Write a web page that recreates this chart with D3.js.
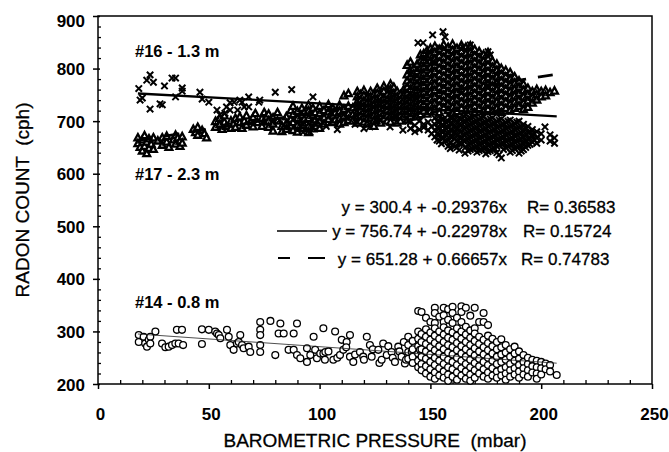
<!DOCTYPE html>
<html>
<head>
<meta charset="utf-8">
<script src="https://cdn.jsdelivr.net/npm/d3@7"></script>
<style>
  html, body { margin: 0; padding: 0; background: #fff; }
  svg text { font-family: "Liberation Sans", Arial, Helvetica, sans-serif; fill: #000; }
</style>
</head>
<body>
<div id="chart"></div>
<script>
// Axis ticks
const xTicks = [0, 50, 100, 150, 200, 250];
const yTicks = [200, 300, 400, 500, 600, 700, 800, 900];

// Probe #17 - 2.3 m (triangles), columns: [pressure, count, count, ...]
const tri17 = [
  [18, 668, 657], [19, 650], [20, 664, 643], [21, 672, 652], [22, 660, 638], [23, 648, 666], [24, 656],
  [25, 668, 646], [27, 662], [29, 654, 668], [31, 660, 671], [32, 650], [34, 664], [35, 656, 673],
  [36, 668], [37, 652, 662], [38, 670, 658],
  [43, 684], [44, 678], [45, 688, 673], [47, 682], [48, 676], [49, 668],
  [53, 699, 688], [55, 705, 693], [56, 684], [57, 698, 710], [58, 690], [60, 700, 686], [61, 694],
  [62, 705, 688], [64, 697, 708], [65, 686], [66, 700], [67, 710, 692], [69, 699], [70, 689, 707],
  [71, 714], [72, 697], [74, 705, 690], [75, 716], [76, 698, 708],
  [77, 713, 700, 688], [79, 706, 694, 681], [81, 716, 700], [83, 690, 680], [85, 708, 695, 684],
  [87, 720, 703, 690], [88, 728, 712, 697, 682], [90, 718, 705, 692, 679], [92, 724, 710, 698, 686],
  [93, 716, 703, 691], [95, 730, 719, 705, 690, 678], [97, 724, 711, 698, 685], [98, 716, 702, 690],
  [100, 728, 714, 700, 686], [102, 720, 706, 694], [104, 731, 717, 703], [106, 724, 710, 697],
  [107, 715, 702], [109, 730, 718, 705, 694], [111, 748, 722, 709, 697], [113, 752, 728, 714, 701],
  [115, 725, 712, 700],
  [117, 756, 746, 736, 726, 716, 706, 696], [118.5, 750, 740, 730, 720, 710, 700],
  [120, 758, 748, 738, 728, 718, 708, 698], [121.5, 744, 734, 724, 714, 704, 694],
  [123, 756, 746, 736, 726, 716, 706], [124.5, 750, 740, 730, 720, 710, 700, 690],
  [126, 762, 752, 742, 732, 722, 712, 702], [127.5, 746, 736, 726, 716, 706, 696],
  [129, 766, 756, 744, 734, 724, 714, 704], [130.5, 750, 740, 730, 720, 710, 700],
  [132, 770, 760, 748, 738, 728, 718, 708, 698], [133.5, 764, 752, 742, 732, 722, 712],
  [135, 756, 746, 736, 726, 716, 706, 696], [136.5, 750, 740, 730, 720, 710, 700],
  [138, 760, 748, 738, 728, 718, 708], [139.5, 806, 788, 776, 764, 752, 742, 732, 722, 712, 702],
  [141, 812, 796, 784, 772, 760, 748, 738, 728, 718, 708], [142.5, 800, 790, 778, 766, 754, 744, 734, 724, 714],
  [144, 808, 794, 782, 770, 758, 748, 738, 728, 718, 708],
  [145.5, 826, 814, 800, 788, 776, 764, 752, 742, 732, 722, 712],
  [147, 828, 816, 803, 791, 779, 767, 755, 743, 731, 719],
  [148.5, 834, 821, 809, 797, 785, 773, 761, 749, 737, 725, 713],
  [150, 838, 826, 814, 802, 790, 778, 766, 754, 742, 730, 718],
  [152, 842, 830, 818, 806, 794, 782, 770, 758, 746, 734, 722],
  [154, 836, 824, 812, 800, 788, 776, 764, 752, 740, 728, 716],
  [156, 845, 833, 821, 809, 797, 785, 773, 761, 749, 737, 725],
  [158, 840, 828, 816, 804, 792, 780, 768, 756, 744, 732, 720],
  [160, 846, 834, 822, 810, 798, 786, 774, 762, 750, 738, 726, 714],
  [162, 838, 826, 814, 802, 790, 778, 766, 754, 742, 730, 718],
  [164, 844, 832, 820, 808, 796, 784, 772, 760, 748, 736, 724],
  [166, 840, 828, 816, 804, 792, 780, 768, 756, 744, 732, 720],
  [168, 843, 831, 819, 807, 795, 783, 771, 759, 747, 735, 723],
  [170, 836, 824, 812, 800, 788, 776, 764, 752, 740, 728, 716],
  [172, 832, 820, 808, 796, 784, 772, 760, 748, 736, 724],
  [174, 826, 814, 802, 790, 778, 766, 754, 742, 730, 718],
  [176, 830, 818, 806, 794, 782, 770, 758, 746, 734, 722],
  [178, 814, 802, 790, 778, 766, 754, 742, 730, 718],
  [180, 808, 796, 784, 772, 760, 748, 736, 724],
  [182, 800, 788, 776, 764, 752, 740, 728, 716],
  [184, 796, 784, 772, 760, 748, 736, 724],
  [186, 792, 780, 768, 756, 744, 732, 720],
  [188, 784, 772, 760, 748, 736, 724],
  [190, 776, 764, 752, 740, 728], [192, 770, 758, 746, 734, 722], [194, 762, 750, 738, 726],
  [196, 756, 745, 734], [198, 760, 750, 740], [200, 756, 746], [202, 758, 748], [204, 754], [206, 757]
];

// Probe #16 - 1.3 m (crosses)
const x16 = [
  [18.4, 762], [19, 740], [20, 744], [22, 778], [23.5, 788, 723], [25, 774], [28, 733], [29, 731],
  [30, 767], [33.4, 782], [35, 782, 746], [38, 763, 757], [46, 755], [47, 742], [50, 736],
  [53.7, 721], [55, 712], [57.3, 715], [58, 727], [59.6, 735, 721], [61.4, 736], [63, 721],
  [64, 740], [65, 736], [66, 727], [68, 746, 727], [72.6, 736], [73, 740], [80, 755], [87.4, 760],
  [82, 702], [86, 690], [90, 712], [92, 696], [92.5, 679], [94, 684], [95.7, 679], [97, 746, 687],
  [99, 700], [103, 690], [105, 718], [108, 684], [112, 707], [116, 694], [120, 686], [122.7, 689],
  [126, 700], [131.8, 689], [134, 710], [137.6, 683], [140, 700],
  [144.4, 849], [146.7, 849], [148, 820], [149.8, 830], [151, 864, 812], [154.3, 839],
  [155.7, 870], [156.6, 860], [164.7, 841], [168, 845], [176, 832], [177, 826],
  [141, 698, 686], [143, 692, 680], [145, 700, 684], [147, 694, 688], [149, 698, 683], [150.5, 690, 676],
  [152, 706, 694, 682, 670], [154, 710, 698, 686, 674, 662], [156, 704, 692, 680, 668],
  [158, 712, 700, 688, 676, 664, 652], [160, 706, 694, 682, 670, 655], [162, 710, 698, 686, 674, 662, 650],
  [164, 704, 692, 680, 668, 656], [165.6, 639], [166, 712, 700, 688, 676, 664, 651],
  [168, 706, 694, 682, 670, 658, 646], [170, 710, 698, 686, 674, 662, 650], [172, 704, 692, 680, 668, 656, 644],
  [174, 708, 696, 684, 672, 660, 648], [176, 702, 690, 678, 666, 654, 642], [178, 706, 694, 682, 670, 658, 646],
  [180, 700, 688, 676, 664, 652, 640], [182, 704, 692, 680, 668, 656, 630], [184, 698, 686, 674, 662, 650],
  [186, 702, 690, 678, 666, 654, 641], [188, 696, 684, 672, 660, 648], [190, 700, 688, 676, 664, 652, 639],
  [192, 694, 682, 670, 658, 646], [194, 690, 678, 666, 654], [196, 684, 672, 660], [198, 680, 668, 658],
  [200, 676, 664], [201.7, 689], [204, 674, 662], [206, 668, 658],
  [153, 700, 688, 676, 664], [155, 704, 692, 680, 668, 657], [157, 698, 686, 674, 662],
  [159, 708, 696, 684, 672, 660, 648], [161, 702, 690, 678, 666, 652], [163, 706, 694, 682, 670, 658, 645],
  [165, 710, 698, 686, 674, 662], [167, 703, 691, 679, 667, 655, 643], [169, 708, 696, 684, 672, 660, 648],
  [171, 700, 688, 676, 664, 652, 641], [173, 706, 694, 682, 670, 658, 646], [175, 698, 686, 674, 662, 650, 638],
  [177, 704, 692, 680, 668, 656, 644], [179, 696, 684, 672, 660, 648], [181, 702, 690, 678, 666, 654, 636],
  [183, 694, 682, 670, 658, 646], [185, 700, 688, 676, 664, 652], [187, 692, 680, 668, 656, 644],
  [189, 698, 686, 674, 662, 650], [191, 690, 678, 666, 654, 643], [193, 686, 674, 662, 650],
  [195, 680, 668, 656], [197, 676, 664]
];

// Probe #14 - 0.8 m (circles)
const c14 = [
  [18.4, 293, 280], [20.6, 290], [21.3, 277], [22.1, 271], [22.9, 284], [23.6, 290, 277], [25.9, 300],
  [28.9, 277], [30.4, 270], [31.9, 271], [33.4, 274], [34.9, 277], [35.6, 303], [36.4, 277],
  [37.9, 303], [38.4, 274], [46.9, 304, 276], [50, 303], [52.9, 300], [53.7, 296], [54.5, 293],
  [55.2, 287], [58.2, 303], [59, 290], [59.7, 274], [61.2, 265], [62.7, 277], [63.5, 280], [64.2, 293],
  [65, 274], [65.7, 268], [68, 271], [68.7, 261], [73.2, 318, 303, 293, 274, 261], [77.8, 320],
  [80, 255], [81.5, 296], [82.3, 315], [83.8, 296], [86, 265], [88.3, 296, 265], [89.8, 315, 255],
  [91.3, 249], [94.3, 268, 242], [95.8, 255], [97.3, 290], [98, 265], [98.8, 249], [100.3, 258],
  [101.7, 306, 258], [102.6, 261], [102.4, 246], [104, 262], [106.2, 246], [107, 300], [108, 250],
  [109.2, 255], [110, 284], [110.7, 265], [112.2, 280], [112, 270], [113.7, 293, 252], [115.2, 242],
  [116, 256], [118.2, 261], [119.7, 252], [120, 246], [121.3, 290], [122.7, 274], [123.5, 252],
  [124, 266], [126.5, 265], [127, 240], [128, 246], [128.7, 277], [130.3, 255], [131, 272],
  [132.5, 261], [133, 250], [134, 242], [135.5, 271], [136, 262], [137, 252], [138, 280],
  [138.5, 239], [139, 246], [140, 274, 290, 261, 248], [141.6, 261], [143, 249],
  [142, 282, 266, 252, 240], [144.5, 339, 300, 286, 272, 258, 244, 232], [145.3, 265], [146.8, 242],
  [146, 337, 295, 280, 266, 252, 238, 226], [148, 326, 304, 290, 276, 262, 248, 234, 220],
  [150, 318, 298, 284, 270, 256, 242, 228, 214],
  [152, 345, 335, 316, 306, 292, 278, 264, 250, 236, 222, 210],
  [154, 328, 300, 286, 272, 258, 244, 230, 216],
  [156, 345, 331, 318, 308, 294, 280, 266, 252, 238, 224, 212],
  [158, 342, 322, 302, 288, 274, 260, 246, 232, 218, 206],
  [160, 347, 335, 316, 298, 284, 270, 256, 242, 228, 214],
  [162, 326, 306, 292, 278, 264, 250, 236, 222, 208],
  [164, 348, 337, 318, 300, 286, 272, 258, 244, 230, 216],
  [166, 345, 309, 294, 280, 266, 252, 238, 224, 210],
  [168, 330, 302, 288, 274, 260, 246, 232, 218, 206],
  [170, 345, 306, 296, 282, 268, 254, 240, 226, 212],
  [172, 318, 290, 276, 262, 248, 234, 220], [174, 335, 318, 284, 270, 256, 242, 228, 214],
  [176, 312, 292, 278, 264, 250, 236, 222, 210], [178, 286, 272, 258, 244, 230, 216],
  [180, 280, 266, 252, 238, 224, 212], [182, 285, 270, 256, 242, 228, 216],
  [184, 274, 260, 246, 232, 220, 208], [186, 266, 252, 238, 226, 214], [188, 271, 258, 244, 230, 218],
  [190, 262, 248, 236, 224, 212], [192, 255, 242, 230, 218], [194, 250, 238, 226, 214],
  [196, 246, 234, 222], [198, 244, 232, 220, 210], [200, 242, 230, 218], [202, 239, 228],
  [204, 236, 224], [207, 217]
];

// Regression fits: #14, #16, #17
const fitIntercept = [300.4, 756.74, 651.28];
const fitSlope = [-0.29376, -0.22978, 0.66657];
const fitR = ["0.36583", "0.15724", "0.74783"];
const fitRange = [18, 207];

const width = 669, height = 452;
const x = d3.scaleLinear().domain([0, 250]).range([98, 652]);
const y = d3.scaleLinear().domain([200, 900]).range([384, 16]);

const flat = cols => cols.flatMap(([p, ...vals]) => vals.map(v => [p, v]));

const svg = d3.select("#chart").append("svg")
  .attr("width", width)
  .attr("height", height);

// frame
svg.append("rect")
  .attr("x", x(0)).attr("y", y(900))
  .attr("width", x(250) - x(0)).attr("height", y(200) - y(900))
  .attr("fill", "none").attr("stroke", "#000").attr("stroke-width", 1.5);

// x axis: major ticks outward, minor ticks inward
const xAxis = svg.append("g")
  .attr("transform", `translate(0,${y(200)})`)
  .call(d3.axisBottom(x).tickValues(xTicks).tickSize(5).tickPadding(19));
xAxis.select(".domain").remove();
xAxis.selectAll(".tick line").attr("stroke-width", 1.5);
xAxis.selectAll(".tick text")
  .attr("dx", 2)
  .style("font-size", "17px").style("font-weight", "bold");

const xMinor = svg.append("g")
  .attr("transform", `translate(0,${y(200)})`)
  .call(d3.axisTop(x).tickValues(d3.range(10, 250, 10).filter(v => v % 50)).tickSize(4).tickFormat(""));
xMinor.select(".domain").remove();
xMinor.selectAll(".tick line").attr("stroke-width", 1.3);

// y axis
const yAxis = svg.append("g")
  .attr("transform", `translate(${x(0)},0)`)
  .call(d3.axisLeft(y).tickValues(yTicks).tickSize(5).tickPadding(8));
yAxis.select(".domain").remove();
yAxis.selectAll(".tick line").attr("stroke-width", 1.5).attr("x2", -5).attr("x1", 2);
yAxis.selectAll(".tick text")
  .attr("dy", d => d === 900 ? "0.62em" : "0.36em")
  .style("font-size", "17px").style("font-weight", "bold");

const yMinor = svg.append("g")
  .attr("transform", `translate(${x(0)},0)`)
  .call(d3.axisRight(y).tickValues(d3.range(220, 900, 20).filter(v => v % 100)).tickSize(3).tickFormat(""));
yMinor.select(".domain").remove();
yMinor.selectAll(".tick line").attr("stroke-width", 1.3);

// axis titles
svg.append("text")
  .attr("x", (x(0) + x(250)) / 2).attr("y", 447)
  .attr("text-anchor", "middle")
  .style("font-size", "19px").style("white-space", "pre")
  .attr("stroke", "#000").attr("stroke-width", 0.3)
  .text("BAROMETRIC PRESSURE  (mbar)");

svg.append("text")
  .attr("transform", `translate(29,${(y(200) + y(900)) / 2}) rotate(-90)`)
  .attr("text-anchor", "middle")
  .style("font-size", "19px").style("white-space", "pre")
  .attr("stroke", "#000").attr("stroke-width", 0.3)
  .text("RADON COUNT  (cph)");

// markers
const plot = svg.append("g");

plot.selectAll(".tri").data(flat(tri17)).join("path")
  .attr("class", "tri")
  .attr("transform", d => `translate(${x(d[0])},${y(d[1])})`)
  .attr("d", "M0,-3.9L3.4,2.4L-3.4,2.4Z")
  .attr("fill", "#fff").attr("stroke", "#000").attr("stroke-width", 2.3);

plot.selectAll(".cross").data(flat(x16)).join("path")
  .attr("class", "cross")
  .attr("transform", d => `translate(${x(d[0])},${y(d[1])})`)
  .attr("d", "M-3.2,-3.2L3.2,3.2M-3.2,3.2L3.2,-3.2")
  .attr("fill", "none").attr("stroke", "#000").attr("stroke-width", 2.0);

plot.selectAll(".circ").data(flat(c14)).join("circle")
  .attr("class", "circ")
  .attr("cx", d => x(d[0])).attr("cy", d => y(d[1]))
  .attr("r", 3.4)
  .attr("fill", "#fff").attr("stroke", "#000").attr("stroke-width", 1.3);

// regression lines
const lineStyles = [
  { w: 0.8, dash: null, color: "#222" },
  { w: 2.3, dash: null, color: "#000" },
  { w: 2.8, dash: "15,12", color: "#000" }
];
fitIntercept.forEach((a, i) => {
  const b = fitSlope[i];
  svg.append("line")
    .attr("x1", x(fitRange[0])).attr("y1", y(a + b * fitRange[0]))
    .attr("x2", x(fitRange[1])).attr("y2", y(a + b * fitRange[1]))
    .attr("stroke", lineStyles[i].color)
    .attr("stroke-width", lineStyles[i].w)
    .attr("stroke-dasharray", lineStyles[i].dash);
});

// series labels
const labels = [["#16 - 1.3 m", 57], ["#17 - 2.3 m", 180], ["#14 - 0.8 m", 308]];
labels.forEach(([t, by]) => {
  svg.append("text").attr("x", 135).attr("y", by)
    .style("font-size", "16.5px").style("font-weight", "bold")
    .text(t);
});

// equations legend
const eqBase = [213, 237, 265];
const rStart = [527, 523, 521];
fitIntercept.forEach((a, i) => {
  svg.append("text").attr("x", 507).attr("y", eqBase[i])
    .attr("text-anchor", "end")
    .style("font-size", "17px")
    .attr("stroke", "#000").attr("stroke-width", 0.3)
    .text(`y = ${a} + ${fitSlope[i]}x`);
  svg.append("text").attr("x", rStart[i]).attr("y", eqBase[i])
    .style("font-size", "17px")
    .attr("stroke", "#000").attr("stroke-width", 0.3)
    .text(`R= ${fitR[i]}`);
});
svg.append("line")
  .attr("x1", 277).attr("x2", 327).attr("y1", 231).attr("y2", 231)
  .attr("stroke", "#000").attr("stroke-width", 1.4);
svg.append("line")
  .attr("x1", 278).attr("x2", 325).attr("y1", 258).attr("y2", 258)
  .attr("stroke", "#000").attr("stroke-width", 1.8)
  .attr("stroke-dasharray", "12,18,17");
</script>
</body>
</html>
